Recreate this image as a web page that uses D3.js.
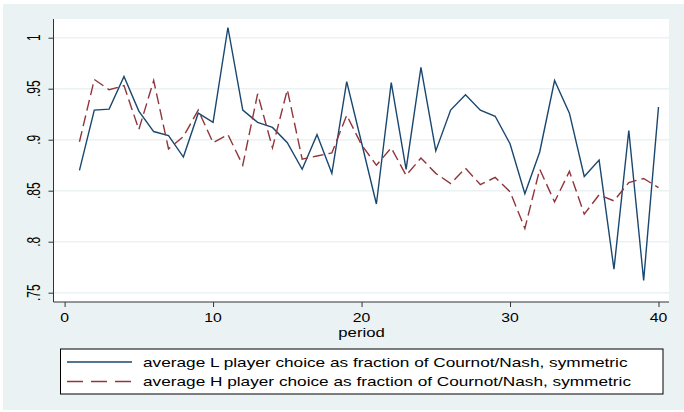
<!DOCTYPE html>
<html>
<head>
<meta charset="utf-8">
<script src="https://cdn.jsdelivr.net/npm/d3@7"></script>
<style>
  body { margin: 0; background: #fff; }
  text { font-family: "Liberation Sans", Arial, sans-serif; fill: #000; }
</style>
</head>
<body>
<div id="chart"></div>
<script>
// Data
var PERIODS = [1, 2, 3, 4, 5, 6, 7, 8, 9, 10, 11, 12, 13, 14, 15, 16, 17, 18, 19, 20,
  21, 22, 23, 24, 25, 26, 27, 28, 29, 30, 31, 32, 33, 34, 35, 36, 37, 38, 39, 40];
var L_CHOICE = [0.870, 0.929, 0.930, 0.962, 0.928, 0.908, 0.904, 0.883, 0.926, 0.917,
  1.010, 0.929, 0.917, 0.912, 0.897, 0.871, 0.905, 0.867, 0.957, 0.897,
  0.837, 0.956, 0.871, 0.971, 0.889, 0.929, 0.944, 0.929, 0.923, 0.896,
  0.847, 0.888, 0.958, 0.926, 0.864, 0.880, 0.773, 0.909, 0.762, 0.932];
var H_CHOICE = [0.898, 0.959, 0.949, 0.953, 0.910, 0.958, 0.891, 0.903, 0.929, 0.897,
  0.905, 0.875, 0.945, 0.892, 0.949, 0.881, 0.884, 0.887, 0.924, 0.895,
  0.875, 0.892, 0.865, 0.882, 0.867, 0.857, 0.872, 0.856, 0.863, 0.849,
  0.813, 0.871, 0.839, 0.869, 0.827, 0.846, 0.840, 0.858, 0.862, 0.853];
var X_TICKS = [0, 10, 20, 30, 40];
var Y_TICKS = [0.75, 0.8, 0.85, 0.9, 0.95, 1];
var Y_TICK_LABELS = [".75", ".8", ".85", ".9", ".95", "1"];
var SERIES_LABELS = [
  "average L player choice as fraction of Cournot/Nash, symmetric",
  "average H player choice as fraction of Cournot/Nash, symmetric"
];

var COLORS = ["#1a476f", "#90353b"];
var BG = "#eaf2f3";

var width = 684;
var height = 412;

var svg = d3.select("#chart")
  .append("svg")
  .attr("width", width)
  .attr("height", height);

// graph region
svg.append("rect")
  .attr("x", 3).attr("y", 4)
  .attr("width", width - 3).attr("height", 406)
  .attr("fill", BG);

// plot region
var plot = { left: 53.5, right: 669, top: 19, bottom: 302 };
svg.append("rect")
  .attr("x", plot.left).attr("y", plot.top)
  .attr("width", plot.right - plot.left)
  .attr("height", plot.bottom - plot.top)
  .attr("fill", "#fff");

var xScale = d3.scaleLinear().domain([0, 40]).range([64.6, 658.5]);
var yScale = d3.scaleLinear().domain([0.75, 1]).range([292.7, 37.7]);

// grid
svg.append("g")
  .selectAll("line")
  .data(Y_TICKS)
  .enter()
  .append("line")
  .attr("x1", plot.left).attr("x2", plot.right)
  .attr("y1", d => yScale(d)).attr("y2", d => yScale(d))
  .attr("stroke", BG)
  .attr("stroke-width", 1.5);

// y axis
var yAxis = d3.axisLeft(yScale)
  .tickValues(Y_TICKS)
  .tickSize(5)
  .tickFormat("");
var yAxisG = svg.append("g")
  .attr("transform", "translate(" + plot.left + ",0)")
  .call(yAxis);
yAxisG.select(".domain")
  .attr("d", "M0," + plot.top + "V" + plot.bottom)
  .attr("stroke", "#333");
yAxisG.selectAll(".tick line").attr("stroke", "#333");

svg.append("g")
  .selectAll("text")
  .data(Y_TICKS)
  .enter()
  .append("text")
  .attr("text-anchor", "middle")
  .attr("font-size", 14)
  .attr("transform", d => "translate(39.5," + yScale(d) + ") rotate(-90) scale(0.86,1.25)")
  .text((d, i) => Y_TICK_LABELS[i]);

// x axis
var xAxis = d3.axisBottom(xScale)
  .tickValues(X_TICKS)
  .tickSize(5)
  .tickFormat("");
var xAxisG = svg.append("g")
  .attr("transform", "translate(0," + plot.bottom + ")")
  .call(xAxis);
xAxisG.select(".domain")
  .attr("d", "M" + plot.left + ",0H" + plot.right)
  .attr("stroke", "#333");
xAxisG.selectAll(".tick line").attr("stroke", "#333");

svg.append("g")
  .selectAll("text")
  .data(X_TICKS)
  .enter()
  .append("text")
  .attr("text-anchor", "middle")
  .attr("font-size", 13.5)
  .attr("transform", d => "translate(" + xScale(d) + ",321.8) scale(1.17,1)")
  .text(d => d);

svg.append("text")
  .attr("text-anchor", "middle")
  .attr("font-size", 13.5)
  .attr("transform", "translate(" + xScale(20) + ",337) scale(1.24,1)")
  .text("period");

// lines
var series = [L_CHOICE, H_CHOICE];
var line = d3.line()
  .x((d, i) => xScale(PERIODS[i]))
  .y(d => yScale(d));

svg.append("g")
  .selectAll("path")
  .data(series)
  .enter()
  .append("path")
  .attr("d", d => line(d))
  .attr("fill", "none")
  .attr("stroke", (d, i) => COLORS[i])
  .attr("stroke-width", 1.4)
  .attr("stroke-linejoin", "miter")
  .attr("stroke-dasharray", (d, i) => i === 1 ? "11,5" : null);

// legend
var legend = svg.append("g");
legend.append("rect")
  .attr("x", 60.5).attr("y", 349)
  .attr("width", 602.5).attr("height", 45)
  .attr("fill", "#fff")
  .attr("stroke", "#000")
  .attr("stroke-width", 1);

var rowY = [362, 381.5];
SERIES_LABELS.forEach(function(label, i) {
  legend.append("line")
    .attr("x1", 67).attr("x2", 132)
    .attr("y1", rowY[i]).attr("y2", rowY[i])
    .attr("stroke", COLORS[i])
    .attr("stroke-width", 1.4)
    .attr("stroke-dasharray", i === 1 ? "16,8" : null);

  var t = legend.append("text")
    .attr("x", 143)
    .attr("y", rowY[i] + 4.7)
    .attr("font-size", 13.5)
    .text(label);
  // stretch to the picture's measured width
  var target = i === 0 ? 484.5 : 488;
  t.attr("textLength", target).attr("lengthAdjust", "spacingAndGlyphs");
});
</script>
</body>
</html>
